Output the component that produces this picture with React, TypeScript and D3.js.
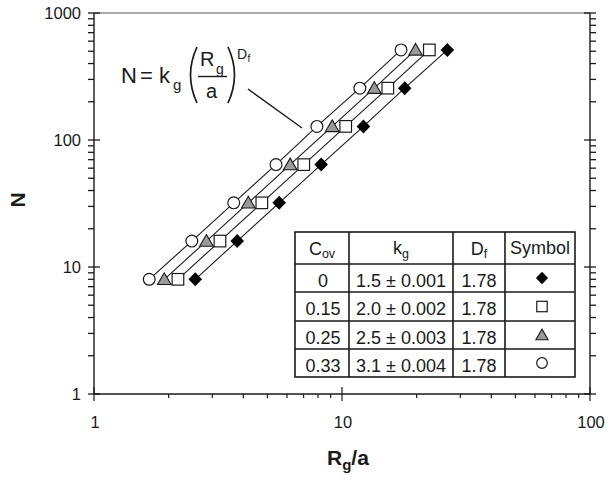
import * as d3 from 'd3';

// N values (y) shared by all series, Rg/a values (x)
const nValues = [8, 16, 32, 64, 128, 256, 512];
const rgDiamond = [2.56, 3.78, 5.58, 8.24, 12.2, 17.9, 26.6];
const rgSquare = [2.18, 3.22, 4.75, 7.01, 10.35, 15.3, 22.5];
const rgTriangle = [1.92, 2.84, 4.19, 6.18, 9.13, 13.5, 19.8];
const rgCircle = [1.67, 2.48, 3.66, 5.42, 7.92, 11.8, 17.3];

const seriesKeys = ['diamond', 'square', 'triangle', 'circle'];
const seriesRg = [rgDiamond, rgSquare, rgTriangle, rgCircle];

// table
const covLabels = ['0', '0.15', '0.25', '0.33'];
const kgLabels = ['1.5 ± 0.001', '2.0 ± 0.002', '2.5 ± 0.003', '3.1 ± 0.004'];
const dfLabels = ['1.78', '1.78', '1.78', '1.78'];

const xTickLabels = [1, 10, 100];
const yTickLabels = [1, 10, 100, 1000];

const font = 'Liberation Sans, Arial, sans-serif';
const ink = '#1a1a1a';

const margin = { left: 94, right: 590, top: 13, bottom: 394 };

function Marker({ type, x, y, s = 1 }) {
	if (type === 'diamond') {
		return <path d={`M${x},${y - 7 * s}L${x + 6.8 * s},${y}L${x},${y + 7 * s}L${x - 6.8 * s},${y}Z`} fill='#000' />;
	}
	if (type === 'square') {
		return <rect x={x - 5.8 * s} y={y - 5.8 * s} width={11.6 * s} height={11.6 * s} fill='#fff' stroke={ink} strokeWidth={1.2} />;
	}
	if (type === 'triangle') {
		return <path d={`M${x},${y - 6.5 * s}L${x + 6.8 * s},${y + 5.2 * s}L${x - 6.8 * s},${y + 5.2 * s}Z`} fill='#9a9a9a' stroke={ink} strokeWidth={1.1} />;
	}
	return <circle cx={x} cy={y} r={5.9 * s} fill='#fff' stroke={ink} strokeWidth={1.2} />;
}

export default function App() {
	const x = d3.scaleLog().domain([1, 100]).range([margin.left, margin.right]);
	const y = d3.scaleLog().domain([1, 1000]).range([margin.bottom, margin.top]);

	const isMajor = (v) => Math.abs(Math.log10(v) - Math.round(Math.log10(v))) < 1e-9;
	const xTicks = x.ticks();
	const yTicks = y.ticks();

	const line = d3.line().x(d => x(d[0])).y(d => y(d[1]));

	// table geometry
	const tX = [295, 349, 453, 505, 575];
	const tY = [232, 264, 292, 321, 349, 377];
	const colMid = tX.slice(0, 4).map((v, i) => (v + tX[i + 1]) / 2);

	return (
		<svg width={608} height={479} style={{ position: 'absolute', left: 0, top: 0, background: '#fff' }} fontFamily={font}>
			<rect width={608} height={479} fill='#fff' />

			{/* frame */}
			<line x1={margin.left} x2={margin.right} y1={margin.top} y2={margin.top} stroke='#555' strokeWidth={1} />
			<line x1={margin.left} x2={margin.right} y1={margin.bottom} y2={margin.bottom} stroke={ink} strokeWidth={1.4} />
			<line x1={margin.left} x2={margin.left} y1={margin.top} y2={margin.bottom} stroke={ink} strokeWidth={1.4} />
			<line x1={margin.right} x2={margin.right} y1={margin.top} y2={margin.bottom} stroke={ink} strokeWidth={1.4} />

			{/* y ticks left and right */}
			{yTicks.map((t, i) => {
				const yy = y(t);
				const major = isMajor(t);
				return (
					<g key={'yt' + i} stroke={ink} strokeWidth={1.3}>
						<line x1={margin.left - 6} x2={margin.left + (major ? 6 : 0)} y1={yy} y2={yy} />
						<line x1={margin.right - (major ? 6 : 0)} x2={margin.right + 6} y1={yy} y2={yy} />
					</g>
				);
			})}
			{/* x ticks bottom */}
			{xTicks.map((t, i) => {
				const xx = x(t);
				const major = isMajor(t);
				return <line key={'xt' + i} x1={xx} x2={xx} y1={margin.bottom - (major ? 7 : 0)} y2={margin.bottom + (major ? 7 : 4)} stroke={ink} strokeWidth={1.2} />;
			})}

			{yTickLabels.map(t => (
				<text key={'yl' + t} x={81} y={y(t) + 6} textAnchor='end' fontSize={16.5} fill={ink}>{t}</text>
			))}
			{xTickLabels.map(t => (
				<text key={'xl' + t} x={x(t) + 1} y={428} textAnchor='middle' fontSize={16.5} fill={ink}>{t}</text>
			))}

			{/* axis titles */}
			<text transform='translate(25,200) rotate(-90)' textAnchor='middle' fontSize={21} fontWeight='bold' fill={ink}>N</text>
			<text x={327} y={465} fontSize={21} fontWeight='bold' fill={ink}>
				R<tspan fontSize={15} dy={5}>g</tspan><tspan dy={-5}>/a</tspan>
			</text>

			{/* fit lines */}
			{seriesRg.map((rg, i) => (
				<path key={'ln' + i} d={line(rg.map((r, j) => [r, nValues[j]]))} fill='none' stroke='#1a1a1a' strokeWidth={1.1} />
			))}

			{/* markers */}
			{seriesRg.map((rg, i) => rg.map((r, j) => (
				<Marker key={'m' + i + '-' + j} type={seriesKeys[i]} x={x(r)} y={y(nValues[j])} />
			)))}

			{/* equation */}
			<g fill={ink}>
				<text x={121} y={83} fontSize={22}>N</text>
				<text x={140} y={83} fontSize={22}>=</text>
				<text x={159} y={83} fontSize={22}>k</text>
				<text x={173} y={90} fontSize={15}>g</text>
				<path d='M197,47 Q184,75 197,103' fill='none' stroke={ink} strokeWidth={1.7} />
				<text x={200} y={66} fontSize={20}>R</text>
				<text x={216} y={74} fontSize={14}>g</text>
				<line x1={198} x2={227} y1={76.5} y2={76.5} stroke={ink} strokeWidth={1.4} />
				<text x={206} y={98} fontSize={20}>a</text>
				<path d='M228,47 Q241,75 228,103' fill='none' stroke={ink} strokeWidth={1.7} />
				<text x={237} y={59} fontSize={14}>D</text>
				<text x={247.5} y={62} fontSize={10}>f</text>
			</g>
			<line x1={248} y1={89} x2={302} y2={128} stroke={ink} strokeWidth={1.4} />

			{/* table */}
			<g>
				<rect x={tX[0]} y={tY[0]} width={tX[4] - tX[0]} height={tY[5] - tY[0]} fill='#fff' stroke={ink} strokeWidth={1.6} />
				{tX.slice(1, 4).map(v => <line key={'tc' + v} x1={v} x2={v} y1={tY[0]} y2={tY[5]} stroke={ink} strokeWidth={1.6} />)}
				{tY.slice(1, 5).map(v => <line key={'tr' + v} x1={tX[0]} x2={tX[4]} y1={v} y2={v} stroke={ink} strokeWidth={1.6} />)}
				<g fontSize={18} fill={ink} textAnchor='middle'>
					<text x={colMid[0]} y={255}>C<tspan fontSize={12.5} dy={3}>ov</tspan></text>
					<text x={colMid[1]} y={254}>k<tspan fontSize={12.5} dy={4}>g</tspan></text>
					<text x={colMid[2]} y={255}>D<tspan fontSize={12.5} dy={3}>f</tspan></text>
					<text x={colMid[3]} y={254}>Symbol</text>
					{covLabels.map((c, i) => (
						<g key={'row' + i}>
							<text x={colMid[0] + 1} y={tY[i + 1] + 23}>{c}</text>
							<text x={colMid[1]} y={tY[i + 1] + 23}>{kgLabels[i]}</text>
							<text x={colMid[2]} y={tY[i + 1] + 23}>{dfLabels[i]}</text>
						</g>
					))}
				</g>
				{seriesKeys.map((k, i) => (
					<Marker key={'tm' + k} type={k} x={colMid[3] + 2} y={(tY[i + 1] + tY[i + 2]) / 2} s={0.9} />
				))}
			</g>
		</svg>
	);
}
